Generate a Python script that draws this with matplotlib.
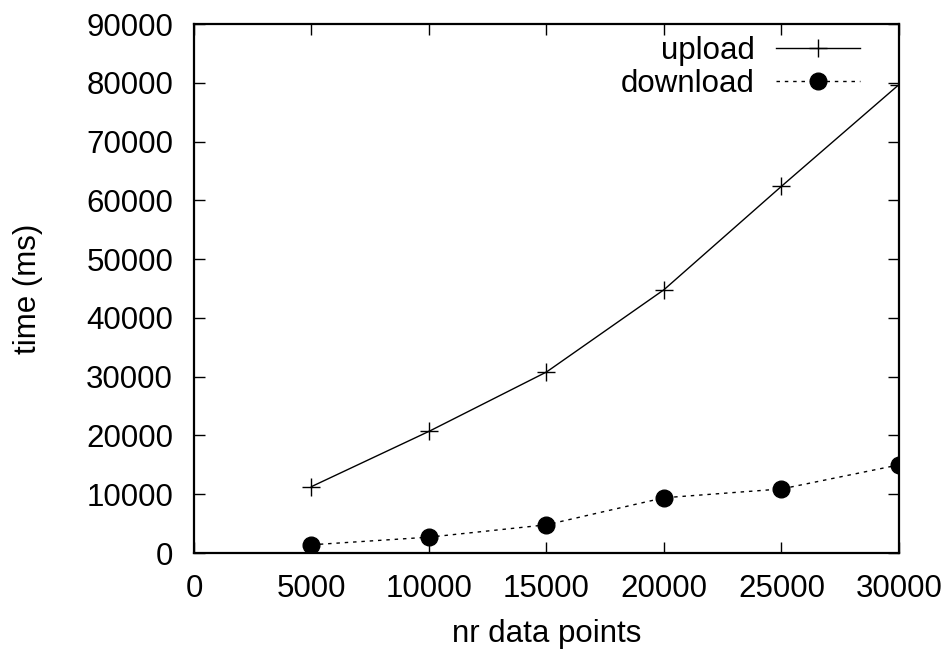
import matplotlib
matplotlib.use("Agg")
import matplotlib.pyplot as plt

plt.rcParams['font.family'] = ['Liberation Sans', 'DejaVu Sans']

x_points = [5000, 10000, 15000, 20000, 25000, 30000]
upload = [11300, 20700, 30800, 44800, 62400, 79700]
download = [1400, 2700, 4800, 9400, 10900, 15000]
x_ticks = [0, 5000, 10000, 15000, 20000, 25000, 30000]
y_ticks = [0, 10000, 20000, 30000, 40000, 50000, 60000, 70000, 80000, 90000]

FS = 22.5

fig = plt.figure(figsize=(9.49, 6.5), dpi=100)
ax = fig.add_axes([0.2044, 0.1492, 0.7429, 0.8138])

ax.plot(x_points, upload, color='black', linewidth=1.0, marker='+',
        markersize=13, markeredgewidth=1.0, label='upload')
ax.plot(x_points, download, color='black', linewidth=1.0, linestyle=(0, (2.5, 3.5)),
        marker='o', markersize=12, label='download')

ax.set_xlim(0, 30000)
ax.set_ylim(0, 90000)
ax.set_xticks(x_ticks)
ax.set_yticks(y_ticks)
ax.tick_params(direction='in', length=8, width=1, top=True, right=True,
               labelsize=FS, pad=15, colors='black')
for s in ax.spines.values():
    s.set_linewidth(1.6)
ax.set_xlabel('nr data points', fontsize=FS)
ax.set_ylabel('time (ms)', fontsize=FS)
ax.xaxis.set_label_coords(0.5, -0.125)
ax.yaxis.set_label_coords(-0.214, 0.5)

leg = ax.legend(loc='upper right', bbox_to_anchor=(0.9447, 0.977), frameon=False,
                markerfirst=False, fontsize=FS, handlelength=2.7, borderpad=0,
                borderaxespad=0, labelspacing=0.08, handletextpad=0.67)

fig.savefig('out.png', dpi=100)
